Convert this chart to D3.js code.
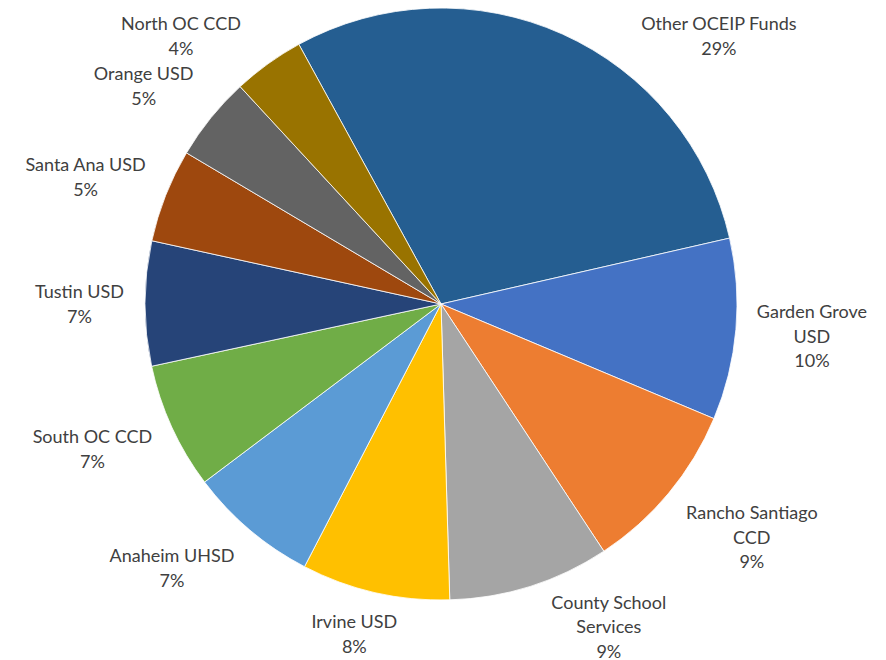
<!DOCTYPE html>
<html>
<head>
<meta charset="utf-8">
<script src="https://cdn.jsdelivr.net/npm/d3@7"></script>
<style>
  body { margin: 0; background: #fff; }
  .label text { font-family: Lato, "Noto Sans", sans-serif; font-size: 18px; fill: #404040; }
</style>
</head>
<body>
<svg id="chart" width="886" height="660"></svg>
<script>
// slices in clockwise order, starting at the top
const categories = [
  'Other OCEIP Funds', 'Garden Grove USD', 'Rancho Santiago CCD', 'County School Services',
  'Irvine USD', 'Anaheim UHSD', 'South OC CCD', 'Tustin USD', 'Santa Ana USD',
  'Orange USD', 'North OC CCD'
]
const labelLines = [
  ['Other OCEIP Funds'], ['Garden Grove', 'USD'], ['Rancho Santiago', 'CCD'], ['County School', 'Services'],
  ['Irvine USD'], ['Anaheim UHSD'], ['South OC CCD'], ['Tustin USD'], ['Santa Ana USD'],
  ['Orange USD'], ['North OC CCD']
]
const shares = [29.4, 9.9, 9.4, 8.8, 8.1, 7.1, 6.9, 6.8, 5.1, 4.6, 3.9]
const colors = [
  '#255e91', '#4472c4', '#ed7d31', '#a5a5a5', '#ffc000', '#5b9bd5',
  '#70ad47', '#264478', '#9e480e', '#636363', '#997300'
]

const width = 886, height = 660
const cx = 441, cy = 304, radius = 296
const start = -28.7 * Math.PI / 180
const lineHeight = 24.5

const svg = d3.select('#chart')
const g = svg.append('g').attr('transform', `translate(${cx},${cy})`)

const rows = categories.map((name, i) => ({
  name, lines: labelLines[i], value: shares[i], color: colors[i]
}))
const total = d3.sum(rows, d => d.value)

const pie = d3.pie()
              .sort(null)
              .value(d => d.value)
              .startAngle(start)
              .endAngle(start + 2 * Math.PI)
const arc = d3.arc().innerRadius(0).outerRadius(radius)
const arcs = pie(rows)

g.append('g')
  .selectAll('path')
  .data(arcs)
  .join('path')
  .attr('d', arc)
  .attr('fill', d => d.data.color)
  .attr('stroke', '#fff')
  .attr('stroke-width', 0.8)

// data labels, placed just outside the rim like Excel's "outside end"
const labels = g.append('g')
  .selectAll('g')
  .data(arcs)
  .join('g')
  .attr('class', 'label')

const text = labels.append('text').attr('text-anchor', 'middle')
text.selectAll('tspan')
  .data(d => d.data.lines.concat([Math.round(d.data.value / total * 100) + '%']))
  .join('tspan')
  .attr('x', 0)
  .attr('dy', (d, i) => i === 0 ? 0 : lineHeight)
  .text(d => d)

const clamp = v => Math.max(-1, Math.min(1, v))

function boxCenter(theta, w, h) {
  const R = radius + 16
  const s = Math.sin(theta), c = Math.cos(theta)
  return [R * s + w / 2 * clamp(s * 1.6), -R * c + h / 2 * clamp(-c * 1.4)]
}

// keep each label inside the picture by sliding it round the rim towards the side
labels.each(function (d) {
  const t = d3.select(this).select('text')
  const bb = t.node().getBBox()
  const w = bb.width + 10, h = bb.height + 4
  let theta = (d.startAngle + d.endAngle) / 2
  const s0 = Math.sin(theta), c0 = Math.cos(theta)
  const step = (s0 >= 0 ? 1 : -1) * (c0 >= 0 ? 1 : -1) * Math.PI / 360
  const fits = p => cy + p[1] - h / 2 >= 10 && cy + p[1] + h / 2 <= height + 4
  let p = boxCenter(theta, w, h)
  let n = 0
  while (!fits(p) && n < 200) {
    theta += step
    p = boxCenter(theta, w, h)
    n++
  }
  const bx = bb.x + bb.width / 2, by = bb.y + bb.height / 2
  t.attr('transform', `translate(${p[0] - bx},${p[1] - by})`)
})
</script>
</body>
</html>
